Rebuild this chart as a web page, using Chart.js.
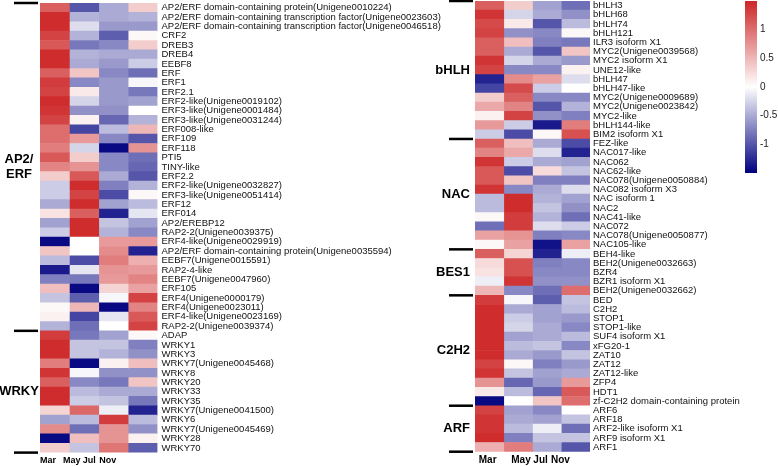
<!DOCTYPE html>
<html>
<head>
<meta charset="utf-8">
<script src="https://cdn.jsdelivr.net/npm/chart.js@4.4.0/dist/chart.umd.min.js"></script>
<style>
  html, body { margin: 0; padding: 0; background: #fff; }
  #wrap { position: relative; width: 778px; height: 466px; }
  #wrap canvas { position: absolute; left: 0; top: 0; }
</style>
</head>
<body>
<div id="wrap">
  <canvas id="leftMap" width="778" height="466"></canvas>
  <canvas id="rightMap" width="778" height="466"></canvas>
  <canvas id="scaleBar" width="778" height="466"></canvas>
</div>
<script>
const months = ['Mar', 'May', 'Jul', 'Nov'];

const leftGenes = [
  'AP2/ERF domain-containing protein(Unigene0010224)',
  'AP2/ERF domain-containing transcription factor(Unigene0023603)',
  'AP2/ERF domain-containing transcription factor(Unigene0046518)',
  'CRF2', 'DREB3', 'DREB4', 'EEBF8', 'ERF', 'ERF1', 'ERF2.1',
  'ERF2-like(Unigene0019102)', 'ERF3-like(Unigene0001484)', 'ERF3-like(Unigene0031244)',
  'ERF008-like', 'ERF109', 'ERF118', 'PTI5', 'TINY-like', 'ERF2.2',
  'ERF2-like(Unigene0032827)', 'ERF3-like(Unigene0051414)', 'ERF12', 'ERF014',
  'AP2/EREBP12', 'RAP2-2(Unigene0039375)', 'ERF4-like(Unigene0029919)',
  'AP2/ERF domain-containing protein(Unigene0035594)', 'EEBF7(Unigene0015591)',
  'RAP2-4-like', 'EEBF7(Unigene0047960)', 'ERF105', 'ERF4(Unigene0000179)',
  'ERF4(Unigene0023011)', 'ERF4-like(Unigene0023169)', 'RAP2-2(Unigene0039374)',
  'ADAP', 'WRKY1', 'WRKY3', 'WRKY7(Unigene0045468)', 'WRKY8', 'WRKY20', 'WRKY33',
  'WRKY35', 'WRKY7(Unigene0041500)', 'WRKY6', 'WRKY7(Unigene0045469)', 'WRKY28', 'WRKY70'
];
const leftMar = [1.1,1.45,1.45,1.3,1.15,1.45,1.45,1.1,1.35,1.3,1.45,1.4,1.3,1.0,1.0,0.9,1.15,0.85,0.35,-0.3,-0.3,-0.5,0.2,-0.55,-0.3,-1.45,0.4,-0.4,-1.35,-0.75,0.45,-0.35,0.05,0.1,-0.45,1.35,1.45,1.45,0.9,1.4,1.1,1.45,1.45,0.3,-0.55,0.8,-1.45,0.35];
const leftMay = [-1.0,-0.45,-0.2,-0.45,-0.8,-0.45,-0.5,0.4,-0.7,0.15,-0.25,-0.65,0.1,-1.1,0.7,-0.25,0.35,0.75,1.15,1.45,1.3,1.45,1.1,1.45,1.45,0.0,0.0,-1.05,-0.15,-0.8,-1.45,-0.95,0.5,-1.1,-0.85,-0.8,-0.35,-0.35,-1.45,-0.05,-0.7,-0.4,-0.3,1.05,-0.4,-0.85,0.45,-0.35];
const leftJul = [-0.5,-0.5,-0.6,-0.95,-0.7,-0.5,-0.6,-0.7,-0.6,-0.6,-0.6,-0.65,-0.9,-0.4,-0.7,-1.45,-0.7,-0.7,-0.5,-0.75,-1.05,-0.55,-1.3,-0.35,-0.45,0.7,0.8,0.9,0.75,0.7,0.3,-0.05,-1.45,-0.15,0.0,-0.55,-0.35,-0.45,0.1,-0.65,-0.8,-0.5,-0.35,-0.1,1.35,0.75,0.75,0.95];
const leftNov = [0.35,-0.45,-0.6,0.05,0.35,-0.5,-0.3,-0.85,-0.05,-0.8,-0.55,0.0,-0.45,0.5,-1.0,0.75,-0.85,-0.9,-1.0,-0.45,0.05,-0.4,-0.15,-0.55,-0.7,0.7,-1.3,0.55,0.7,0.85,0.65,1.3,0.85,1.15,1.3,0.05,-0.75,-0.65,0.45,-0.65,0.4,-0.5,-0.8,-1.3,-0.4,-0.65,0.1,-0.95];
const leftGroupNames = [['AP2/', 'ERF'], ['WRKY']];
const leftGroupSizes = [35, 13];

const rightGenes = [
  'bHLH3', 'bHLH68', 'bHLH74', 'bHLH121', 'ILR3 isoform X1', 'MYC2(Unigene0039568)',
  'MYC2 isoform X1', 'UNE12-like', 'bHLH47', 'bHLH47-like', 'MYC2(Unigene0009689)',
  'MYC2(Unigene0023842)', 'MYC2-like', 'bHLH144-like', 'BIM2 isoform X1',
  'FEZ-like', 'NAC017-like', 'NAC062', 'NAC62-like', 'NAC078(Unigene0050884)',
  'NAC082 isoform X3', 'NAC isoform 1', 'NAC2', 'NAC41-like', 'NAC072',
  'NAC078(Unigene0050877)', 'NAC105-like',
  'BEH4-like', 'BEH2(Unigene0032663)', 'BZR4', 'BZR1 isoform X1', 'BEH2(Unigene0032662)',
  'BED', 'C2H2', 'STOP1', 'STOP1-like', 'SUF4 isoform X1', 'xFG20-1', 'ZAT10', 'ZAT12',
  'ZAT12-like', 'ZFP4', 'HDT1', 'zf-C2H2 domain-containing protein',
  'ARF6', 'ARF18', 'ARF2-like isoform X1', 'ARF9 isoform X1', 'ARF1'
];
const rightMar = [1.1,1.4,1.25,1.3,1.1,1.1,1.4,1.3,-1.3,-1.1,0.35,0.6,0.1,0.7,-0.3,1.1,0.85,1.4,1.15,1.15,1.4,-0.4,-0.4,0.05,-0.85,0.65,0.05,1.1,0.25,0.2,-0.1,0.5,1.35,1.45,1.45,1.45,1.45,1.45,1.45,1.3,1.4,0.75,0.15,-1.45,1.3,1.4,1.4,1.45,0.55];
const rightMay = [0.35,-0.25,0.15,-0.65,0.45,-0.5,-0.25,-0.7,0.8,1.25,1.1,0.85,1.3,-0.3,-1.05,0.45,0.6,-0.3,-1.05,0.4,-0.7,1.45,1.45,1.35,1.35,0.75,0.65,0.3,1.2,1.2,1.4,-0.7,-0.05,-0.5,-0.3,-0.25,-0.55,-0.4,-0.5,0.05,-0.35,-0.9,-0.4,0.0,-0.55,-0.5,-0.4,-0.75,0.9];
const rightJul = [-0.55,-0.5,-1.0,-0.7,-0.75,-1.0,-0.5,-0.7,0.65,-0.3,-0.7,-1.0,-0.65,-1.35,0.05,-0.5,-0.2,-0.5,0.25,-0.75,-0.5,-0.45,-0.35,-0.45,-0.2,-0.75,-1.4,-1.3,-0.75,-0.7,-0.65,-0.85,-0.95,-0.55,-0.55,-0.5,-0.5,-0.35,-0.6,-0.75,-0.55,-0.6,-0.9,0.4,-0.7,-0.55,-0.1,-0.35,-0.5];
const rightNov = [-0.85,-0.65,-0.4,0.05,-0.8,0.4,-0.6,0.1,-0.2,0.0,-0.7,-0.45,-0.75,0.9,1.2,-1.05,-1.3,-0.55,-0.35,-0.75,-0.2,-0.55,-0.65,-0.85,-0.3,-0.7,0.65,-0.1,-0.7,-0.7,-0.65,1.0,-0.35,-0.4,-0.6,-0.7,-0.4,-0.7,-0.35,-0.6,-0.5,0.7,1.15,1.0,0.0,-0.35,-0.85,-0.35,-1.0];
const rightGroupNames = [['bHLH'], ['NAC'], ['BES1'], ['C2H2'], ['ARF']];
const rightGroupSizes = [15, 12, 5, 12, 5];

const scaleMin = -1.5;
const scaleMax = 1.5;
const scaleTicks = [1, 0.5, 0, -0.5, -1];

// navy -> white -> firebrick3, like the usual pheatmap palette
const lowRgb = [0, 0, 128];
const midRgb = [255, 255, 255];
const highRgb = [205, 38, 38];

Chart.defaults.font.family = '"Liberation Sans", Arial, Helvetica, sans-serif';
Chart.defaults.color = '#111';

function heatColor(v) {
  const t = Math.max(-1, Math.min(1, v / scaleMax));
  const end = t < 0 ? lowRgb : highRgb;
  const k = Math.abs(t);
  const c = midRgb.map((m, i) => Math.round(m + (end[i] - m) * k));
  return `rgb(${c[0]},${c[1]},${c[2]})`;
}

const groupPlugin = {
  id: 'groups',
  afterDraw(chart, args, opts) {
    const { ctx, chartArea } = chart;
    const y = chart.scales.y;
    const step = y.getPixelForValue(1) - y.getPixelForValue(0);
    const edge = i => y.getPixelForValue(i) - step / 2;
    const bounds = [0];
    opts.sizes.forEach(n => bounds.push(bounds[bounds.length - 1] + n));

    ctx.save();
    ctx.strokeStyle = '#000';
    ctx.lineWidth = 2.5;
    bounds.forEach(b => {
      const py = edge(b);
      ctx.beginPath();
      ctx.moveTo(chartArea.left - 26, py);
      ctx.lineTo(chartArea.left - 2, py);
      ctx.stroke();
    });

    ctx.fillStyle = '#000';
    ctx.font = 'bold 13px "Liberation Sans", Arial, sans-serif';
    ctx.textAlign = opts.align;
    ctx.textBaseline = 'middle';
    opts.names.forEach((lines, g) => {
      const mid = (edge(bounds[g]) + edge(bounds[g + 1])) / 2;
      const lh = 15;
      lines.forEach((txt, j) => {
        const py = mid + (j - (lines.length - 1) / 2) * lh;
        ctx.fillText(txt, chartArea.left + opts.dx, py);
      });
    });
    ctx.restore();
  }
};

function makeHeatmap(id, genes, cols, names, sizes, frame) {
  // the label axis runs to the canvas edge so its text is not clipped
  const yAxisWidth = 778 - frame.right;
  return new Chart(document.getElementById(id), {
    type: 'bar',
    data: {
      labels: genes,
      datasets: cols.map((vals, i) => ({
        label: months[i],
        data: vals.map(() => 1),
        backgroundColor: vals.map(heatColor),
        borderWidth: 0,
        barPercentage: 1,
        categoryPercentage: 1
      }))
    },
    options: {
      indexAxis: 'y',
      responsive: false,
      animation: false,
      events: [],
      layout: {
        padding: { left: frame.left, top: frame.top, right: 0, bottom: 0 }
      },
      plugins: {
        legend: { display: false },
        tooltip: { enabled: false },
        groups: { names: names, sizes: sizes, align: frame.groupAlign, dx: frame.groupDx }
      },
      scales: {
        x: {
          stacked: true,
          min: 0,
          max: months.length,
          grid: { display: false, drawTicks: false },
          border: { display: false },
          afterBuildTicks: s => { s.ticks = frame.monthPos.map(v => ({ value: v })); },
          afterFit: s => { s.height = 466 - frame.bottom; s.paddingLeft = 0; s.paddingRight = 0; },
          ticks: {
            autoSkip: false,
            maxRotation: 0,
            padding: 3,
            color: '#000',
            font: { size: frame.monthSize, weight: 'bold' },
            callback: (v, i) => months[i]
          }
        },
        y: {
          stacked: true,
          position: 'right',
          grid: { display: false, drawTicks: false },
          border: { display: false },
          afterFit: s => { s.width = yAxisWidth; s.paddingTop = 0; s.paddingBottom = 0; },
          ticks: {
            autoSkip: false,
            padding: frame.labelPad,
            font: { size: 9.5 }
          }
        }
      }
    },
    plugins: [groupPlugin]
  });
}

makeHeatmap('leftMap', leftGenes, [leftMar, leftMay, leftJul, leftNov], leftGroupNames, leftGroupSizes, {
  left: 40, top: 3, right: 157.5, bottom: 452.6,
  monthPos: [0.27, 1.08, 1.68, 2.31], monthSize: 9,
  labelPad: 4, groupAlign: 'center', groupDx: -21
});

makeHeatmap('rightMap', rightGenes, [rightMar, rightMay, rightJul, rightNov], rightGroupNames, rightGroupSizes, {
  left: 475, top: 1, right: 590, bottom: 451.7,
  monthPos: [0.44, 1.6, 2.28, 2.97], monthSize: 10,
  labelPad: 3, groupAlign: 'right', groupDx: -5
});

// colour key
const barRight = 757;
new Chart(document.getElementById('scaleBar'), {
  type: 'bar',
  data: {
    labels: [''],
    datasets: [{
      data: [[scaleMin, scaleMax]],
      borderWidth: 0,
      barPercentage: 1,
      categoryPercentage: 1,
      backgroundColor: c => {
        const y = c.chart.scales.y;
        const y0 = y ? y.getPixelForValue(scaleMin) : NaN;
        const y1 = y ? y.getPixelForValue(scaleMax) : NaN;
        if (!isFinite(y0) || !isFinite(y1) || y0 === y1) return heatColor(0);
        const g = c.chart.ctx.createLinearGradient(0, y0, 0, y1);
        g.addColorStop(0, heatColor(scaleMin));
        g.addColorStop(0.5, heatColor(0));
        g.addColorStop(1, heatColor(scaleMax));
        return g;
      }
    }]
  },
  options: {
    responsive: false,
    animation: false,
    events: [],
    layout: { padding: { left: 745, top: 1, right: 0, bottom: 466 - 173 } },
    plugins: { legend: { display: false }, tooltip: { enabled: false } },
    scales: {
      x: { display: false },
      y: {
        position: 'right',
        min: scaleMin,
        max: scaleMax,
        grid: { display: false, drawTicks: false },
        border: { display: false },
        afterBuildTicks: s => { s.ticks = scaleTicks.map(v => ({ value: v })); },
        afterFit: s => { s.width = 778 - barRight; s.paddingTop = 0; s.paddingBottom = 0; },
        ticks: { padding: 3, font: { size: 10 }, color: '#222', callback: v => String(v) }
      }
    }
  }
});
</script>
</body>
</html>
